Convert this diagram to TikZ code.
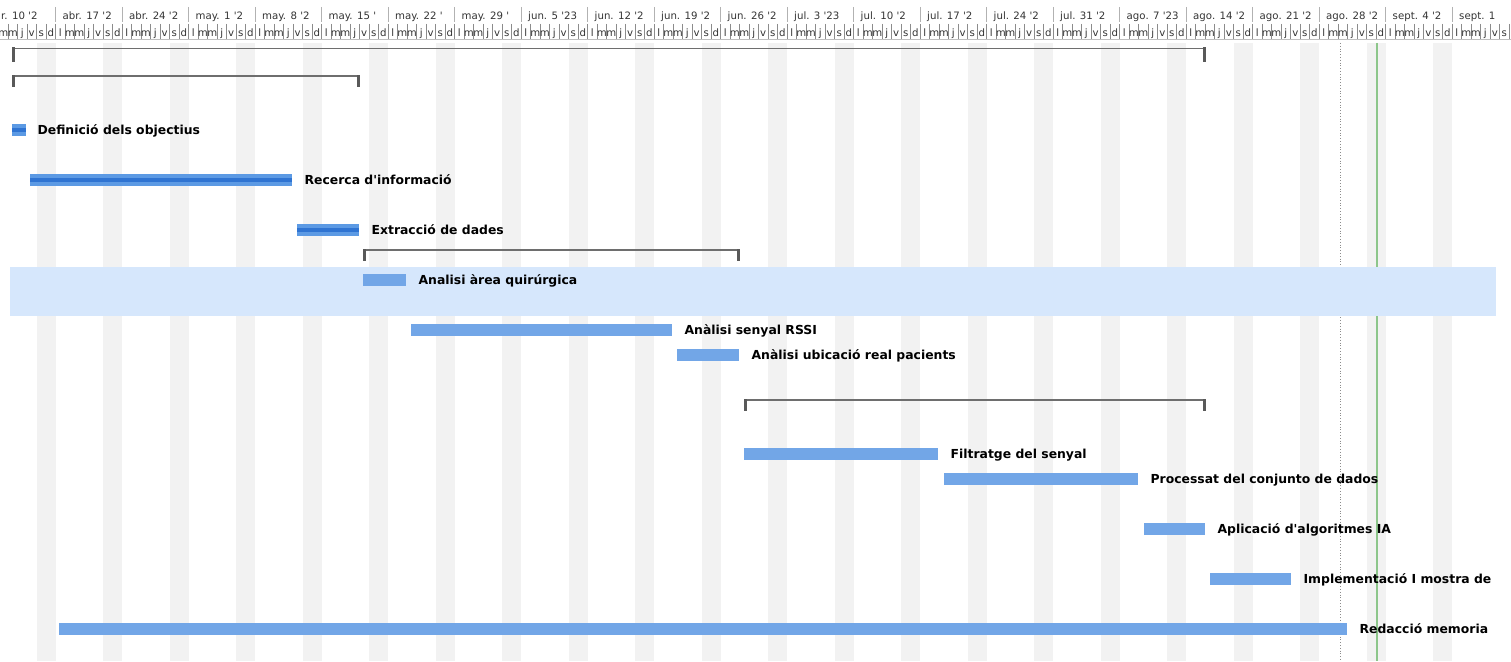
\documentclass[tikz,border=0pt]{standalone}
\usepackage{fontspec}
\setmainfont{DejaVu Sans}
\newcommand\apos{\textquotesingle}
\definecolor{stripe}{HTML}{F2F2F2}
\definecolor{barblue}{HTML}{72A6E7}
\definecolor{donebar}{HTML}{5C9AE4}
\definecolor{donedark}{HTML}{2F74D2}
\definecolor{hlband}{HTML}{D6E7FC}
\definecolor{summgray}{HTML}{6E6E6E}
\definecolor{hdrtext}{HTML}{333333}
\definecolor{todaygreen}{HTML}{8DC68B}
\tikzset{
  bar/.style={rectangle, inner sep=0pt, minimum height=12pt, fill=barblue, anchor=west},
  donebarst/.style={bar, fill=donebar},
  lab/.style={anchor=base west, inner sep=0pt, font=\bfseries\fontsize{12.4}{14}\selectfont},
  weeklab/.style={anchor=base west, inner sep=0pt, text=hdrtext, font=\fontsize{10.2}{12}\selectfont},
  daylab/.style={anchor=base, inner sep=0pt, text=hdrtext, font=\fontsize{10.2}{12}\selectfont},
  weeksep/.style={draw=black!30, line width=0.7pt},
  daytick/.style={draw=black!45, line width=0.5pt},
  summline/.style={draw=summgray, line width=1.8pt},
  summtick/.style={fill=black!65},
}
\begin{document}
\begin{tikzpicture}[x=1pt,y=-1pt]
\useasboundingbox (0,0) rectangle (1511,661);
\begin{scope}
\clip (0,0) rectangle (1497,661);
% weekend stripes
\foreach \k in {-1,...,22} {
  \fill[stripe] ({55.5+66.5*\k-19},43) rectangle ({55.5+66.5*\k},661);
}
\end{scope}
% today / dotted markers
\draw[black!45, dotted, line width=0.8pt] (1340,43) -- (1340,661);
\draw[todaygreen, line width=1.5pt] (1377,43) -- (1377,661);
% highlighted row
\fill[hlband] (10,267) rectangle (1496,316);
% header
\begin{scope}
\clip (0,0) rectangle (1511,661);
\draw[black!25, line width=0.6pt] (0,39.5) -- (1511,39.5);
\foreach \k in {-1,...,21} {
  \pgfmathsetmacro{\xk}{55.5+66.5*\k}
  \draw[weeksep] (\xk,7) -- (\xk,22);
  \foreach \i/\d in {0/l,1/m,2/m,3/j,4/v,5/s,6/d} {
    \draw[daytick] ({\xk+9.5*\i},24) -- ({\xk+9.5*\i},39);
    \node[daylab] at ({\xk+9.5*\i+4.75},36.5) {\d};
  }
}
\node[weeklab] (w0) at (1,20) {r. 10 \apos2};
\foreach \lab [count=\k from 0] in {abr. 17 \apos2, abr. 24 \apos2, may. 1 \apos2, may. 8 \apos2, may. 15 \apos, may. 22 \apos, may. 29 \apos, jun. 5 \apos23, jun. 12 \apos2, jun. 19 \apos2, jun. 26 \apos2, jul. 3 \apos23, jul. 10 \apos2, jul. 17 \apos2, jul. 24 \apos2, jul. 31 \apos2, ago. 7 \apos23, ago. 14 \apos2, ago. 21 \apos2, ago. 28 \apos2, sept. 4 \apos2, sept. 1} {
  \node[weeklab] at ({55.5+66.5*\k+7},20) {\lab};
}
\end{scope}
% summary brackets
\draw[summline] (12,48.5) -- (1206,48.5);
\fill[summtick] (12,47.5) rectangle (15,62);
\fill[summtick] (1203,47.5) rectangle (1206,62);
\draw[summline] (12,76) -- (360,76);
\fill[summtick] (12,75) rectangle (15,87);
\fill[summtick] (357,75) rectangle (360,87);
\draw[summline] (363,250) -- (740,250);
\fill[summtick] (363,249) rectangle (366,261);
\fill[summtick] (737,249) rectangle (740,261);
\draw[summline] (744,400) -- (1206,400);
\fill[summtick] (744,399) rectangle (747,411);
\fill[summtick] (1203,399) rectangle (1206,411);
% task bars
\node[donebarst, minimum width=14pt] (b1) at (12,130) {};
\node[donebarst, minimum width=262pt] (b2) at (30,180) {};
\node[donebarst, minimum width=62pt] (b3) at (297,230) {};
\foreach \b in {b1,b2,b3} {
  \fill[donedark] ([yshift=2pt]\b.west) rectangle ([yshift=-2pt]\b.east);
}
\node[bar, minimum width=43pt] (b4) at (363,280) {};
\node[bar, minimum width=261pt] (b5) at (411,330) {};
\node[bar, minimum width=62pt] (b6) at (677,355) {};
\node[bar, minimum width=194pt] (b7) at (744,454) {};
\node[bar, minimum width=194pt] (b8) at (944,479) {};
\node[bar, minimum width=61pt] (b9) at (1144,529) {};
\node[bar, minimum width=81pt] (b10) at (1210,579) {};
\node[bar, minimum width=1288pt] (b11) at (59,629) {};
% labels
\node[lab] (l1) at ([xshift=11pt,yshift=-4.5pt]b1.east) {Definició dels objectius};
\node[lab] (l2) at ([xshift=12pt,yshift=-4.5pt]b2.east) {Recerca d\apos informació};
\node[lab] (l3) at ([xshift=12pt,yshift=-4.5pt]b3.east) {Extracció de dades};
\node[lab] (l4) at ([xshift=12pt,yshift=-4.5pt]b4.east) {Analisi àrea quirúrgica};
\node[lab] (l5) at ([xshift=12pt,yshift=-4.5pt]b5.east) {Anàlisi senyal RSSI};
\node[lab] (l6) at ([xshift=12pt,yshift=-4.5pt]b6.east) {Anàlisi ubicació real pacients};
\node[lab] (l7) at ([xshift=12pt,yshift=-4.5pt]b7.east) {Filtratge del senyal};
\node[lab] (l8) at ([xshift=12pt,yshift=-4.5pt]b8.east) {Processat del conjunto de dados};
\node[lab] (l9) at ([xshift=12pt,yshift=-4.5pt]b9.east) {Aplicació d\apos algoritmes IA};
\node[lab] (l10) at ([xshift=12pt,yshift=-4.5pt]b10.east) {Implementació I mostra de};
\node[lab] (l11) at ([xshift=12pt,yshift=-4.5pt]b11.east) {Redacció memoria};
\end{tikzpicture}
\end{document}
